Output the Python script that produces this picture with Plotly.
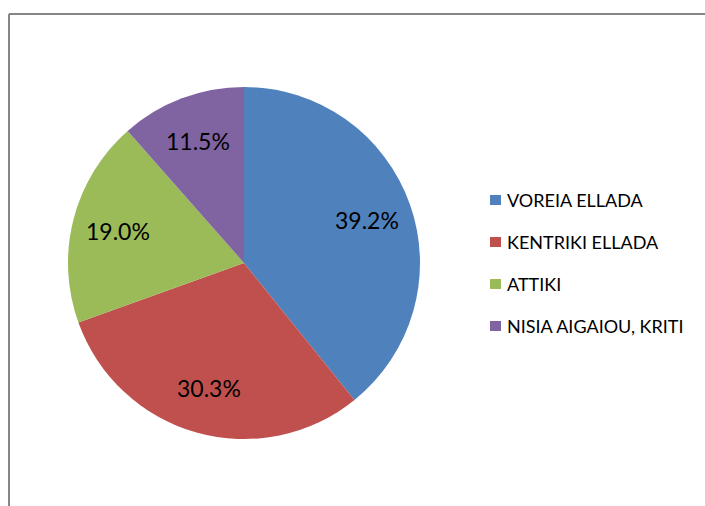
import math
import plotly.graph_objects as go

regions = ["VOREIA ELLADA", "KENTRIKI ELLADA", "ATTIKI", "NISIA AIGAIOU, KRITI"]
shares = [39.2, 30.3, 19.0, 11.5]
colors = ["#4F81BD", "#C0504D", "#9BBB59", "#8064A2"]

W, H = 705, 506
font = "Lato, Open Sans, sans-serif"


def px(x):
    return x / W


def py(y):
    return 1 - y / H


cx, cy, R = 244, 263, 176

fig = go.Figure(go.Pie(
    labels=regions,
    values=shares,
    sort=False,
    direction="clockwise",
    rotation=0,
    marker=dict(colors=colors, line=dict(width=0)),
    textinfo="none",
    domain=dict(x=[px(cx - R), px(cx + R)], y=[py(cy + R), py(cy - R)]),
    showlegend=False,
))

shapes = [
    dict(type="line", xref="paper", yref="paper", x0=px(9), x1=px(9), y0=0, y1=py(14),
         line=dict(color="#868686", width=2)),
    dict(type="line", xref="paper", yref="paper", x0=px(9), x1=1, y0=py(14), y1=py(14),
         line=dict(color="#868686", width=2)),
]
annotations = []

# percentage labels at the middle angle of each slice
total = sum(shares)
start = 0.0
for v in shares:
    mid = (start + v / 2) / total * 2 * math.pi
    start += v
    lx = cx + 0.74 * R * math.sin(mid)
    ly = cy - 0.74 * R * math.cos(mid)
    annotations.append(dict(text=f"{v:.1f}%", xref="paper", yref="paper", x=px(lx), y=py(ly),
                            xanchor="center", yanchor="middle", showarrow=False,
                            font=dict(size=23, color="black", family=font)))

# legend drawn by hand so the row spacing matches
for i, (name, col) in enumerate(zip(regions, colors)):
    yc = 200 + 42 * i
    shapes.append(dict(type="rect", xref="paper", yref="paper",
                       x0=px(490), x1=px(501), y0=py(yc + 5), y1=py(yc - 5),
                       fillcolor=col, line=dict(width=0)))
    annotations.append(dict(text=name, xref="paper", yref="paper", x=px(505), y=py(yc),
                            xanchor="left", yanchor="middle", showarrow=False,
                            font=dict(size=18, color="black", family=font)))

fig.update_layout(
    width=W, height=H,
    margin=dict(l=0, r=0, t=0, b=0),
    paper_bgcolor="white",
    shapes=shapes,
    annotations=annotations,
)
fig.write_html(
    "out.html",
    config={"displayModeBar": False},
    post_script="document.body.style.margin='0';document.body.style.overflow='hidden';",
)
